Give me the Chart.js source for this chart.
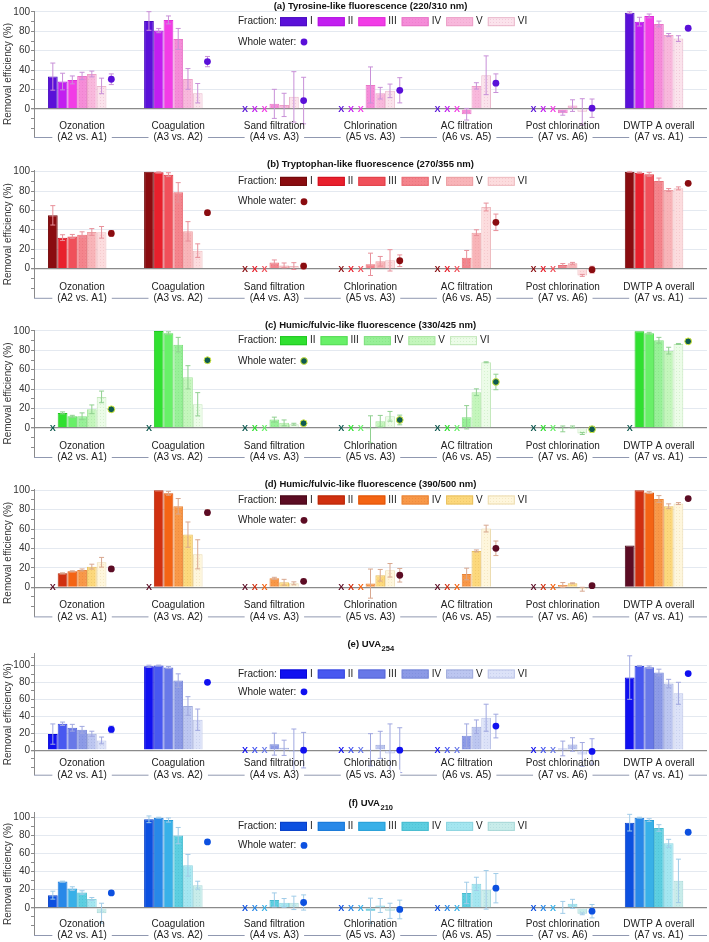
<!DOCTYPE html>
<html><head><meta charset="utf-8">
<script src="https://cdn.jsdelivr.net/npm/chart.js@4/dist/chart.umd.min.js"></script>
<style>
html,body{margin:0;padding:0;background:#fff;}
#wrap{position:relative;width:709px;height:942px;overflow:hidden;}
canvas{position:absolute;left:0;}
</style></head><body><div id="wrap"></div>
<script>
// ---------- DATA ----------
const categories = [["Ozonation","(A2 vs. A1)"],["Coagulation","(A3 vs. A2)"],["Sand filtration","(A4 vs. A3)"],["Chlorination","(A5 vs. A3)"],["AC filtration","(A6 vs. A5)"],["Post chlorination","(A7 vs. A6)"],["DWTP A overall","(A7 vs. A1)"]];
const fractionLabels = ["I","II","III","IV","V","VI"];
const yTickLabels = [0,20,40,60,80,100];

// (a) Tyrosine-like fluorescence — rows: fractions I..VI, columns: categories (null = not determined, X)
const tyrosineValues = [
  [33.3, 90.7, null, null, null, null, 99.3],
  [28.2, 80.8, null, null, null, null, 90.0],
  [29.9, 91.8, null, null, null, null, 95.9],
  [34.0, 72.2, 5.2, 24.7, -5.5, -4.5, 87.6],
  [36.0, 30.9, 4.1, 16.2, 23.7, 3.4, 76.3],
  [23.7, 16.2, 12.4, 18.6, 34.7, -3.0, 72.5]
];
const tyrosineErrors = [
  [14, 9.6, 0, 0, 0, 0, 1],
  [8.6, 2.2, 0, 0, 0, 0, 4.5],
  [4.1, 4.1, 0, 0, 0, 0, 2],
  [3.8, 10.8, 15, 18.6, 6, 2, 3],
  [3, 10.7, 12, 6, 3.3, 6, 1.5],
  [8, 10, 26, 7, 20, 13.5, 3]
];
const tyrosineWhole = [30.6, 48.8, 8.6, 19.2, 26.5, 0.7, 83.2];
const tyrosineWholeErr = [5.5, 5.3, 24, 13, 9.6, 9.5, 0];

// (b) Tryptophan-like fluorescence
const tryptophanValues = [
  [55.0, 100, null, null, null, null, 100],
  [32.0, 99.3, null, null, null, null, 99.0],
  [33.3, 96.9, null, null, null, null, 97.3],
  [35.0, 78.7, 6.5, 4.5, 11.3, 3.8, 90.4],
  [37.8, 38.5, 3.4, 7.6, 37.1, 5.5, 81.1],
  [37.5, 18.6, 2.7, 8.6, 63.6, -6.9, 82.8]
];
const tryptophanErrors = [
  [10, 0, 0, 0, 0, 0, 0.5],
  [3, 0.5, 0, 0, 0, 0, 0.5],
  [2, 2, 0, 0, 0, 0, 2],
  [3, 10, 2.5, 11.5, 7.5, 1.5, 3],
  [3.5, 10, 2.5, 5, 3, 1, 1.5],
  [6, 7, 3.5, 11, 4, 1, 1.5]
];
const tryptophanWhole = [36.4, 57.7, 2.7, 8.2, 47.8, -1.0, 88.0];
const tryptophanWholeErr = [3, 0, 3, 6, 8.5, 3.5, 0];

// (c) Humic/fulvic-like fluorescence (330/425 nm)
const humicAValues = [
  [null, null, null, null, null, null, null],
  [15.5, 100, null, null, null, null, 99.7],
  [12.0, 97.6, null, null, null, null, 97.6],
  [12.0, 85.9, 8.6, -1.5, 11.0, -1.0, 90.4],
  [19.2, 52.2, 5.2, 6.9, 36.8, 1.0, 79.7],
  [32.0, 24.4, 3.8, 12.0, 67.7, -5.8, 86.6]
];
const humicAErrors = [
  [0, 0, 0, 0, 0, 0, 0],
  [1, 0, 0, 0, 0, 0, 0],
  [1, 1.5, 0, 0, 0, 0, 1],
  [3.5, 7.5, 2.5, 14, 12, 3, 3],
  [4.5, 12, 3, 6, 3.5, 1, 3.5],
  [6, 12, 1, 5, 0.5, 1, 0.5]
];
const humicAWhole = [19.2, 69.8, 4.8, 8.2, 47.4, -1.4, 89.3];
const humicAWholeErr = [2, 0, 0, 5, 8, 3, 0];

// (d) Humic/fulvic-like fluorescence (390/500 nm)
const humicBValues = [
  [null, null, null, null, null, null, 43.0],
  [14.4, 100, null, null, null, null, 100],
  [16.5, 96.9, null, null, null, null, 97.6],
  [17.9, 83.5, 9.3, 3.8, 13.7, 2.4, 91.0],
  [21.3, 54.3, 5.2, 12.4, 37.5, 4.1, 83.5],
  [25.8, 34.0, 4.1, 17.5, 60.5, -2.0, 86.3]
];
const humicBErrors = [
  [0, 0, 0, 0, 0, 0, 0],
  [0.5, 0, 0, 0, 0, 0, 0],
  [0.5, 2, 0, 0, 0, 0, 1],
  [1, 8, 1, 15, 6, 2.5, 3.5],
  [2.5, 13, 3, 6, 1, 0.5, 2.5],
  [5, 15, 1.5, 7, 3.5, 2, 1]
];
const humicBWhole = [18.9, 77.0, 6.2, 12.4, 40.2, 1.7, 91.4];
const humicBWholeErr = [0, 3, 0, 7, 7.5, 0, 0];

// (e) UVA254
const uva254Values = [
  [19.0, 99.2, null, null, null, null, 85.8],
  [31.2, 100, null, null, null, null, 99.6],
  [26.5, 97.6, null, null, null, null, 98.0],
  [24.1, 82.2, 7.1, 0.5, 17.0, 2.0, 91.7],
  [19.4, 52.2, 2.8, 6.3, 27.7, 6.7, 78.7],
  [11.5, 36.0, -2.0, -4.0, 38.3, -5.0, 67.2]
];
const uva254Errors = [
  [12, 1.2, 0, 0, 0, 0, 25.7],
  [2, 0.5, 0, 0, 0, 0, 0.5],
  [4, 1.2, 0, 0, 0, 0, 1.5],
  [4, 8, 13, 19, 14, 8.7, 4],
  [3, 11, 9, 16, 8, 8, 5],
  [4, 12.6, 27, 35, 16, 14, 13]
];
const uva254Whole = [24.5, 80.2, 0.0, 0.0, 28.5, -1.5, 90.5];
const uva254WholeErr = [4, 0, 21, 26.5, 14, 15, 0];

// (f) UVA210
const uva210Values = [
  [14.0, 97.8, null, null, null, null, 94.1],
  [29.0, 99.6, null, null, null, null, 99.6],
  [21.3, 97.0, null, null, null, null, 97.0],
  [16.9, 79.8, 8.8, -3.3, 16.5, 0.5, 88.2],
  [9.9, 47.0, 5.5, 2.6, 26.5, 4.4, 71.3],
  [-5.9, 25.0, 5.5, -3.3, 19.9, -6.6, 29.8]
];
const uva210Errors = [
  [4.4, 3.7, 0, 0, 0, 0, 9.2],
  [0.5, 0.5, 0, 0, 0, 0, 0.5],
  [2, 2.3, 0, 0, 0, 0, 1.5],
  [2, 9, 7.7, 14, 11.8, 6.6, 3.7],
  [1.5, 12, 4.8, 7.7, 7.3, 5, 4.4],
  [11, 4.4, 7.4, 8.4, 21.3, 1, 24]
];
const uva210Whole = [16.5, 72.8, 5.9, -1.8, 21.7, -3.7, 83.5];
const uva210WholeErr = [0, 0, 8.4, 10.3, 16.2, 7.4, 0];

// ---------- STYLE / LAYOUT ----------
const FONT = '"Liberation Sans", Arial, sans-serif';
const panels = [
  {title:'(a) Tyrosine-like fluorescence (220/310 nm)', values:tyrosineValues, errors:tyrosineErrors, whole:tyrosineWhole, wholeErr:tyrosineWholeErr,
   top:0, height:150, chartTop:11, chartBottom:137, min:-29, max:101, titleY:6,
   colors:['#5a10d8','#c21ef0','#f23ce6','#f58cd8','#f8b8dc','#fbe3ec'],
   borders:['#4a0cc0','#b414e0','#e030d8','#e878c8','#eca0c8','#eab8cc'],
   ww:'#5a10d8', err:'#c890d8', legend:[0,1,2,3,4,5]},
  {title:'(b) Tryptophan-like fluorescence (270/355 nm)', values:tryptophanValues, errors:tryptophanErrors, whole:tryptophanWhole, wholeErr:tryptophanWholeErr,
   top:150, height:157, chartTop:170.7, chartBottom:297.8, min:-30, max:101, titleY:164,
   colors:['#8a0c10','#e8202c','#f0505a','#f4848c','#f8b4b8','#fcdcde'],
   borders:['#700808','#d01020','#e04048','#e87078','#eca0a4','#eebcc0'],
   ww:'#8a0c10', err:'#e8909a', legend:[0,1,2,3,4,5]},
  {title:'(c) Humic/fulvic-like fluorescence (330/425 nm)', values:humicAValues, errors:humicAErrors, whole:humicAWhole, wholeErr:humicAWholeErr,
   top:307, height:157, chartTop:330, chartBottom:457.1, min:-30, max:101, titleY:325,
   colors:['#0e5a50','#30e030','#68f068','#98f098','#c4f6bc','#ecfce8'],
   borders:['#0e5a50','#20c820','#58dc58','#80e080','#a8e4a0','#c4e8bc'],
   ww:'#0e5a50', wwRing:'#d8ec40', err:'#90d090', legend:[1,2,3,4,5]},
  {title:'(d) Humic/fulvic-like fluorescence (390/500 nm)', values:humicBValues, errors:humicBErrors, whole:humicBWhole, wholeErr:humicBWholeErr,
   top:464, height:160, chartTop:489.3, chartBottom:616.4, min:-30, max:101, titleY:484,
   colors:['#5c0c24','#d03010','#f46414','#f89848','#fcd87c','#fef6dc'],
   borders:['#4a0818','#b82808','#e05408','#e88438','#e8c060','#ecdcb0'],
   ww:'#5c0c24', err:'#d8a890', legend:[0,1,2,3,4,5]},
  {title:'(e) UVA', sub:'254', values:uva254Values, errors:uva254Errors, whole:uva254Whole, wholeErr:uva254WholeErr,
   top:624, height:160, chartTop:653.7, chartBottom:774.7, min:-29, max:114, titleY:644,
   colors:['#1010f0','#4858f0','#6878e8','#8c9ae6','#bcc6f0','#dce2f8'],
   borders:['#0808d8','#3848e0','#5868d8','#7888d8','#a0acdc','#bcc4e8'],
   ww:'#1010f0', err:'#a0a8e0', legend:[0,1,2,3,4,5]},
  {title:'(f) UVA', sub:'210', values:uva210Values, errors:uva210Errors, whole:uva210Whole, wholeErr:uva210WholeErr,
   top:784, height:158, chartTop:812.8, chartBottom:935.2, min:-30, max:105, titleY:803,
   colors:['#0c50e0','#2888e8','#38b0e8','#5ccee0','#a4e6f0','#c8ecea'],
   borders:['#0840c8','#1878d8','#28a0d8','#48bcd0','#8cd4e0','#a8d8d8'],
   ww:'#0c50e0', err:'#a0cce8', legend:[0,1,2,3,4,5]}
];

// stippled fill like the reference's dotted bars
function stipple(base, dotColor){
  const c = document.createElement('canvas'); c.width = 3; c.height = 3;
  const g = c.getContext('2d');
  g.fillStyle = base; g.fillRect(0,0,3,3);
  g.fillStyle = dotColor; g.globalAlpha = 0.55; g.fillRect(1,1,1,1);
  return g.createPattern(c, 'repeat');
}
function fillFor(p, k){ return k >= 3 ? stipple(p.colors[k], p.borders[k]) : p.colors[k]; }

function makeDecor(p){
  return {
    id:'decor',
    afterDatasetsDraw(chart){
      const ctx = chart.ctx, ca = chart.chartArea, xs = chart.scales.x, ys = chart.scales.y;
      const wwMeta = chart.getDatasetMeta(6);
      ctx.save();
      // error bars (clipped)
      ctx.save();
      ctx.beginPath(); ctx.rect(ca.left, ca.top, ca.right-ca.left, ca.bottom-ca.top); ctx.clip();
      ctx.strokeStyle = p.err; ctx.lineWidth = 1;
      const errBar = (x, v, e) => {
        const yt = ys.getPixelForValue(v+e), yb = ys.getPixelForValue(v-e);
        ctx.beginPath();
        ctx.moveTo(x, yt); ctx.lineTo(x, yb);
        ctx.moveTo(x-2.5, yt); ctx.lineTo(x+2.5, yt);
        ctx.moveTo(x-2.5, yb); ctx.lineTo(x+2.5, yb);
        ctx.stroke();
      };
      for (let k=0;k<6;k++){
        const meta = chart.getDatasetMeta(k);
        for (let i=0;i<categories.length;i++){
          const v = p.values[k][i], e = p.errors[k][i];
          if (v!==null && e>0) errBar(meta.data[i].x, v, e);
        }
      }
      for (let i=0;i<categories.length;i++){
        if (p.wholeErr[i]>0) errBar(wwMeta.data[i].x, p.whole[i], p.wholeErr[i]);
      }
      ctx.restore();
      // X markers for not-determined fractions
      const y0 = ys.getPixelForValue(0);
      ctx.font = 'bold 9px '+FONT; ctx.textAlign='center'; ctx.textBaseline='middle';
      for (let k=0;k<6;k++){
        const meta = chart.getDatasetMeta(k);
        for (let i=0;i<categories.length;i++){
          if (p.values[k][i]===null){
            ctx.fillStyle = p.colors[k];
            ctx.fillText('X', meta.data[i].x, y0+0.5);
          }
        }
      }
      // whole water dots
      const dot = (x,y) => {
        ctx.beginPath(); ctx.arc(x,y,3.4,0,Math.PI*2);
        ctx.fillStyle = p.ww; ctx.fill();
        if (p.wwRing){ ctx.lineWidth=1; ctx.strokeStyle=p.wwRing; ctx.stroke(); }
      };
      for (let i=0;i<categories.length;i++) dot(wwMeta.data[i].x, ys.getPixelForValue(p.whole[i]));
      // legend
      ctx.font = '10px '+FONT; ctx.textBaseline='middle'; ctx.textAlign='left'; ctx.fillStyle='#222';
      const yL = ys.getPixelForValue(90), yW = ys.getPixelForValue(69);
      ctx.fillText('Fraction:', 238, yL);
      let lx = 280;
      p.legend.forEach(k => {
        ctx.fillStyle = fillFor(p, k); ctx.fillRect(lx, yL-4.5, 27, 9);
        ctx.strokeStyle = p.borders[k]; ctx.lineWidth=1; ctx.strokeRect(lx+0.5, yL-4, 26, 8);
        ctx.fillStyle='#222'; ctx.fillText(fractionLabels[k], lx+30, yL);
        lx += 30 + ctx.measureText(fractionLabels[k]).width + 5;
      });
      ctx.fillStyle='#222';
      ctx.fillText('Whole water:', 238, yW);
      dot(304, yW);
      // bottom axis line and category labels
      ctx.strokeStyle = '#9098b0'; ctx.lineWidth = 1;
      ctx.beginPath(); ctx.moveTo(ca.left, ca.bottom+0.5); ctx.lineTo(ca.right, ca.bottom+0.5); ctx.stroke();
      ctx.textAlign='center'; ctx.font='10px '+FONT;
      for (let i=0;i<categories.length;i++){
        const x = xs.getPixelForValue(i);
        ctx.fillStyle='#222';
        ctx.fillText(categories[i][0], x, ca.bottom-11);
        const w = ctx.measureText(categories[i][1]).width;
        ctx.fillStyle='#fff'; ctx.fillRect(x-w/2-5, ca.bottom-5, w+10, 10);
        ctx.fillStyle='#222'; ctx.fillText(categories[i][1], x, ca.bottom+0.5);
      }
      // y axis title
      ctx.save();
      ctx.translate(8, (ca.top+ca.bottom)/2); ctx.rotate(-Math.PI/2);
      ctx.fillStyle='#333'; ctx.font='10px '+FONT; ctx.textAlign='center';
      ctx.fillText('Removal efficiency (%)', 0, 0);
      ctx.restore();
      // title
      const cx = (ca.left+ca.right)/2, ty = p.titleY - p.top;
      ctx.fillStyle='#111'; ctx.textBaseline='middle';
      if (p.sub){
        ctx.font='bold 9.5px '+FONT; const w1 = ctx.measureText(p.title).width;
        ctx.font='bold 7.5px '+FONT; const w2 = ctx.measureText(p.sub).width;
        const sx = cx - (w1+w2)/2;
        ctx.textAlign='left';
        ctx.font='bold 9.5px '+FONT; ctx.fillText(p.title, sx, ty);
        ctx.font='bold 7.5px '+FONT; ctx.fillText(p.sub, sx+w1+0.5, ty+4.5);
      } else {
        ctx.font='bold 9.5px '+FONT; ctx.textAlign='center';
        ctx.fillText(p.title, cx, ty);
      }
      ctx.restore();
    }
  };
}

const wrap = document.getElementById('wrap');
panels.forEach(p => {
  const cv = document.createElement('canvas');
  cv.width = 709; cv.height = p.height;
  cv.style.top = p.top+'px'; cv.style.width='709px'; cv.style.height=p.height+'px';
  wrap.appendChild(cv);
  const datasets = p.values.map((vals,k) => ({
    label: fractionLabels[k], data: vals,
    backgroundColor: fillFor(p, k), borderColor: p.borders[k], borderWidth: 1,
    categoryPercentage: 0.71, barPercentage: 1.0
  }));
  datasets.push({label:'Whole water', data:p.whole, backgroundColor:'rgba(0,0,0,0)', borderWidth:0,
    categoryPercentage:0.71, barPercentage:1.0});
  const tickVals = [];
  for (let v=-20; v<=p.max; v+=10) tickVals.push(v);
  new Chart(cv, {
    type:'bar',
    data:{labels: categories.map(c=>c[0]), datasets},
    options:{
      responsive:false, animation:false, devicePixelRatio:1,
      layout:{padding:{top:p.chartTop-p.top, bottom:p.top+p.height-p.chartBottom, left:0, right:2}},
      plugins:{legend:{display:false}, tooltip:{enabled:false}, title:{display:false}},
      scales:{
        x:{display:false},
        y:{
          min:p.min, max:p.max,
          afterFit:(s)=>{ s.width = 34; },
          afterBuildTicks:(s)=>{ s.ticks = tickVals.map(v=>({value:v})); },
          ticks:{ autoSkip:false, padding:1, color:'#333', font:{family:FONT, size:10},
            callback:(v)=> yTickLabels.includes(v) ? String(v) : '' },
          grid:{ drawTicks:true, tickLength:3, tickColor:'#8a8a8a',
            color:(c)=>{ const v=c.tick && c.tick.value; if (v===0) return '#8a8a8a'; if (v>0 && v%20===0) return '#e4e9f0'; return 'rgba(0,0,0,0)'; },
            lineWidth:(c)=> (c.tick && c.tick.value===0) ? 1.3 : 1 },
          border:{display:true, color:'#8a8a8a', width:1}
        }
      }
    },
    plugins:[makeDecor(p)]
  });
});
</script>
</body></html>
